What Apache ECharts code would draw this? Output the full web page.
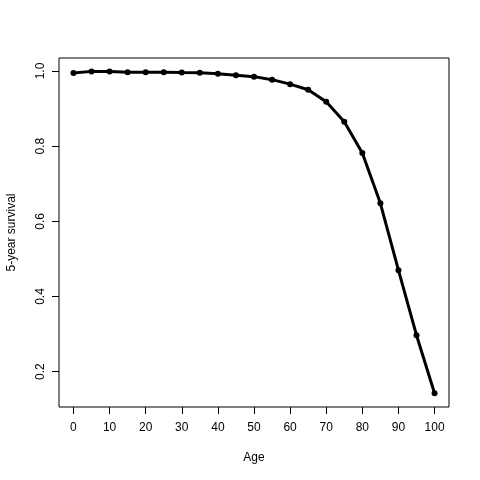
<!DOCTYPE html>
<html>
<head>
<meta charset="utf-8">
<script src="https://cdn.jsdelivr.net/npm/echarts@6/dist/echarts.min.js"></script>
<style>html,body{margin:0;padding:0;background:#fff}#c{width:480px;height:480px}</style>
</head>
<body>
<div id="c"></div>
<script>
const ages = [0,5,10,15,20,25,30,35,40,45,50,55,60,65,70,75,80,85,90,95,100];
const survival = [0.995,0.999,0.999,0.997,0.997,0.997,0.996,0.9955,0.993,0.989,0.985,0.977,0.965,0.950,0.918,0.865,0.782,0.648,0.470,0.297,0.1425];
const xTicks = [0,10,20,30,40,50,60,70,80,90,100];
const yTicks = [0.2,0.4,0.6,0.8,1.0];

const font = 'Liberation Sans, Arial, Helvetica, sans-serif';
const chart = echarts.init(document.getElementById('c'), null, {renderer:'canvas'});
chart.setOption({
  backgroundColor:'#fff',
  animation:false,
  grid:{left:59, right:31, top:58, bottom:73, outerBoundsMode:'none', containLabel:false, show:true, borderColor:'#000', borderWidth:1, backgroundColor:'transparent'},
  xAxis:{
    type:'value', min:-4, max:104,
    name:'Age', nameLocation:'middle', nameGap:45,
    nameTextStyle:{fontFamily:font, fontSize:12, color:'#000'},
    axisLine:{show:false, onZero:false},
    splitLine:{show:false},
    axisTick:{show:true, length:7, lineStyle:{color:'#000'}, customValues:xTicks},
    axisLabel:{fontFamily:font, fontSize:12, color:'#000', margin:15, customValues:xTicks, formatter:v=>String(v)}
  },
  yAxis:{
    type:'value', min:0.106, max:1.0346,
    name:'5-year survival', nameLocation:'middle', nameGap:41,
    nameTextStyle:{fontFamily:font, fontSize:12, color:'#000'},
    axisLine:{show:false, onZero:false},
    splitLine:{show:false},
    axisTick:{show:true, length:7, lineStyle:{color:'#000'}, customValues:yTicks},
    axisLabel:{fontFamily:font, fontSize:12, color:'#000', margin:12, rotate:90, customValues:yTicks, formatter:v=>v.toFixed(1)}
  },
  series:[{
    type:'line',
    data:ages.map((a,i)=>[a,survival[i]]),
    lineStyle:{color:'#000', width:3},
    itemStyle:{color:'#000'},
    symbol:'circle', symbolSize:6, showSymbol:true
  }]
});
</script>
</body>
</html>
